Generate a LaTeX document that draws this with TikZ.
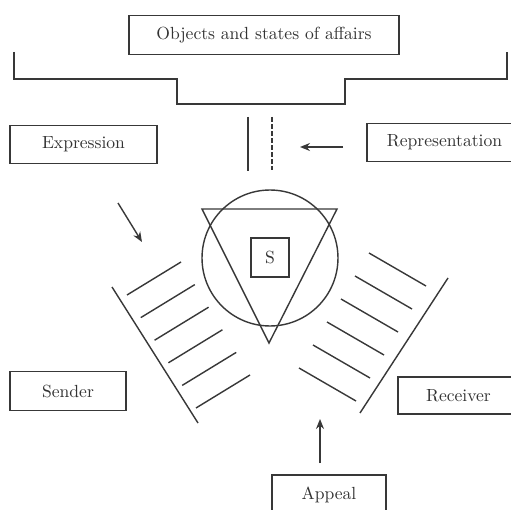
\documentclass[tikz,border=0pt]{standalone}
\usetikzlibrary{arrows.meta}

\begin{document}
\begin{tikzpicture}[
  x=0.02cm, y=-0.02cm,
  line width=0.8pt, draw=black!78,
  box/.style={draw, inner sep=0pt, minimum height=0.77cm, text=black!80},
  fl/.style={-{Stealth[length=2mm, width=1.6mm]}},
  sig/.style={dash pattern=on 2.8pt off 1.2pt}
]
\clip (0,0) rectangle (511,510);
\fill[white] (0,0) rectangle (511,510);

\node[box, minimum width=5.4cm] (obj) at (264,35) {Objects and states of affairs};
\node[box, minimum width=2.94cm] (expr) at (83.5,144.5) {Expression};
\node[box, minimum width=3.1cm] (repr) at (444.5,142.5) {Representation};
\node[box, minimum width=0.76cm, minimum height=0.78cm] (s) at (270,257.5) {S};
\node[box, minimum width=2.32cm] (send) at (68,391) {Sender};
\node[box, minimum width=2.42cm, minimum height=0.74cm] (recv) at (458.5,395.5) {Receiver};
\node[box, minimum width=2.28cm, minimum height=0.8cm] (appeal) at (329,495) {Appeal};

% bracket under the objects
\draw (14,52) -- (14,79) -- (177,79) -- (177,104) -- (345,104) -- (345,79) -- (507,79) -- (507,52);

% the sign
\draw (270,258) circle[radius=1.36cm];
\coordinate (tl) at (202,209);
\coordinate (tr) at (337,209);
\coordinate (tb) at (269,343);
\draw (tl) -- (tr) -- (tb) -- cycle;

\draw (248,117) -- (248,171);
\draw[sig] (272,117) -- (272,170);

% arrows
\coordinate (ra) at (343,147);
\coordinate (rb) at (300,147);
\coordinate (ea) at (118,203);
\coordinate (eb) at (142,242);
\coordinate (aa) at (320,463);
\coordinate (ab) at (320,419);
\draw[fl] (ra) -- (rb);
\draw[fl] (ea) -- (eb);
\draw[fl] (aa) -- (ab);

% sender side
\draw (112,287) -- (198,423);
\foreach \i in {0,...,5}
  \draw ({127+13.8*\i},{295+22.6*\i}) -- ++(54,-33);

% receiver side
\draw (448,278) -- (360,413);
\foreach \i in {0,...,5}
  \draw ({369-14*\i},{253+23*\i}) -- ++(57,33);
\end{tikzpicture}
\end{document}
